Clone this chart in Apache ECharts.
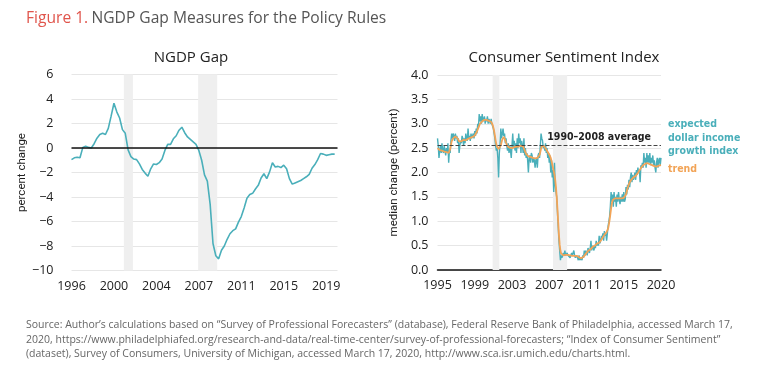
<!DOCTYPE html>
<html>
<head>
<meta charset="utf-8">
<script src="https://cdn.jsdelivr.net/npm/echarts@6/dist/echarts.min.js"></script>
<style>
  html, body { margin: 0; padding: 0; background: #fff; }
  #chart { width: 768px; height: 375px; }
</style>
</head>
<body>
<div id="chart"></div>
<script>
// NGDP gap, quarterly, starting 1996Q1 (percent)
const ngdpGap = [
  -0.95, -0.8, -0.75, -0.8, 0.05, 0.15, 0.05, 0.0, 0.35, 0.8,
  1.1, 1.2, 1.1, 1.6, 2.6, 3.65, 2.95, 2.45, 1.5, 1.2,
  -0.15, -0.7, -0.9, -0.95, -1.3, -1.75, -2.05, -2.3, -1.7, -1.3,
  -1.35, -1.2, -0.9, -0.2, 0.3, 0.3, 0.75, 1.0, 1.45, 1.7,
  1.25, 0.9, 0.7, 0.5, 0.3, -0.2, -1.0, -2.2, -2.7, -4.6,
  -7.8, -8.8, -9.05, -8.35, -8.0, -7.45, -7.0, -6.75, -6.6, -6.05,
  -5.6, -4.9, -4.1, -3.8, -3.7, -3.35, -3.05, -2.45, -2.1, -2.5,
  -1.95, -1.2, -1.55, -1.5, -1.6, -1.4, -1.7, -2.5, -2.95, -2.85,
  -2.75, -2.65, -2.5, -2.35, -2.15, -1.65, -1.35, -0.95, -0.45, -0.5,
  -0.6, -0.55, -0.5, -0.5
];
const ngdpTickLabels = ['1996', '2000', '2004', '2007', '2011', '2015', '2019'];
// recession shading, in quarter index units
const ngdpRecessions = [[18.5, 21.7], [44.75, 51.5]];

// expected dollar income growth index, monthly Jan 1995 - Jan 2020
const incomeIndex = [
  2.70,2.55,2.30,2.45,2.55,2.40,2.60,2.45,2.40,2.55,2.45,2.35,
  2.50,2.40,2.60,2.20,2.45,2.40,2.65,2.80,2.70,2.80,2.75,2.65,
  2.80,2.70,2.75,2.60,2.70,2.40,2.55,2.65,2.60,2.75,2.70,2.55,
  2.70,2.60,2.80,2.70,2.65,2.90,2.70,2.75,2.65,2.80,2.70,2.75,
  2.80,2.70,2.85,2.75,2.90,2.80,3.00,2.95,3.20,3.05,3.15,3.00,
  3.20,3.05,3.10,3.15,3.00,3.10,3.05,3.15,3.00,3.10,3.05,3.00,
  3.10,3.00,2.95,2.90,2.80,2.70,2.55,2.45,2.50,2.30,1.90,2.40,
  2.60,2.90,2.70,2.80,2.90,2.75,2.80,2.60,2.70,2.55,2.45,2.60,
  2.40,2.55,2.45,2.30,2.55,2.80,2.50,2.65,2.45,2.60,2.40,2.70,
  2.50,2.80,2.60,2.70,2.40,2.65,2.55,2.40,2.70,2.35,2.50,2.30,
  2.40,2.25,2.00,2.30,2.35,2.20,2.40,2.35,2.20,2.30,2.25,2.10,
  2.25,2.30,2.10,2.35,2.40,2.30,2.55,2.80,2.70,2.65,2.50,2.55,
  2.45,2.60,2.40,2.50,2.30,2.40,2.20,2.35,2.00,2.25,1.90,2.05,
  1.60,2.20,1.75,1.60,1.50,1.20,0.90,0.60,0.40,0.20,0.30,0.25,
  0.30,0.35,0.30,0.40,0.30,0.30,0.35,0.30,0.30,0.30,0.25,0.30,
  0.35,0.30,0.30,0.40,0.30,0.25,0.30,0.30,0.25,0.20,0.30,0.20,
  0.20,0.25,0.20,0.30,0.25,0.40,0.30,0.40,0.35,0.30,0.45,0.40,
  0.35,0.45,0.60,0.40,0.50,0.45,0.40,0.50,0.45,0.60,0.50,0.55,
  0.50,0.70,0.55,0.60,0.70,0.65,0.75,0.60,0.80,0.70,0.75,0.60,
  0.75,0.90,1.00,1.10,1.30,1.60,1.40,1.55,1.30,1.60,1.40,1.50,
  1.30,1.55,1.40,1.60,1.45,1.35,1.50,1.40,1.55,1.40,1.60,1.40,
  1.45,1.70,1.55,1.75,1.65,1.85,1.70,1.90,2.00,1.80,1.95,1.85,
  1.90,2.00,1.85,2.05,1.95,2.10,2.00,2.05,1.80,2.15,2.10,2.20,
  2.10,2.40,2.20,2.30,2.10,2.40,2.20,2.35,2.20,2.40,2.15,2.30,
  2.20,2.35,2.15,2.25,2.10,2.00,2.20,2.30,2.10,2.25,2.30,2.15,
  2.30
];
const incomeTrend = [
  2.50,2.48,2.47,2.46,2.46,2.45,2.45,2.44,2.44,2.43,2.43,2.43,
  2.42,2.41,2.40,2.40,2.42,2.48,2.56,2.64,2.68,2.70,2.72,2.73,
  2.74,2.74,2.72,2.70,2.67,2.64,2.62,2.62,2.64,2.66,2.67,2.67,
  2.67,2.66,2.66,2.67,2.68,2.69,2.70,2.70,2.71,2.72,2.72,2.73,
  2.73,2.74,2.76,2.78,2.80,2.84,2.88,2.92,2.96,3.00,3.02,3.04,
  3.05,3.06,3.07,3.08,3.08,3.09,3.08,3.08,3.07,3.06,3.05,3.04,
  3.04,3.02,2.98,2.92,2.85,2.76,2.66,2.58,2.53,2.50,2.48,2.47,
  2.50,2.56,2.62,2.68,2.72,2.73,2.71,2.66,2.61,2.57,2.54,2.53,
  2.52,2.51,2.50,2.50,2.50,2.50,2.51,2.52,2.53,2.53,2.53,2.53,
  2.53,2.53,2.54,2.55,2.55,2.55,2.54,2.53,2.50,2.46,2.42,2.38,
  2.36,2.34,2.33,2.32,2.32,2.32,2.32,2.31,2.30,2.29,2.29,2.29,
  2.29,2.29,2.30,2.31,2.33,2.36,2.42,2.49,2.54,2.56,2.55,2.54,
  2.52,2.50,2.47,2.44,2.42,2.40,2.37,2.35,2.30,2.24,2.17,2.10,
  2.03,1.95,1.85,1.70,1.50,1.25,0.98,0.72,0.52,0.40,0.34,0.31,
  0.30,0.30,0.31,0.31,0.31,0.31,0.31,0.31,0.30,0.30,0.30,0.29,
  0.29,0.29,0.29,0.29,0.29,0.29,0.29,0.29,0.28,0.27,0.26,0.25,
  0.24,0.24,0.24,0.25,0.27,0.29,0.31,0.33,0.35,0.37,0.39,0.40,
  0.41,0.42,0.44,0.45,0.47,0.48,0.49,0.50,0.52,0.53,0.54,0.55,
  0.55,0.56,0.58,0.60,0.62,0.65,0.67,0.70,0.72,0.74,0.76,0.78,
  0.79,0.85,0.93,1.03,1.14,1.26,1.36,1.43,1.46,1.47,1.47,1.47,
  1.47,1.47,1.47,1.47,1.47,1.47,1.47,1.47,1.47,1.47,1.48,1.49,
  1.50,1.55,1.61,1.67,1.72,1.76,1.80,1.83,1.85,1.87,1.89,1.90,
  1.91,1.92,1.93,1.95,1.97,1.99,2.02,2.04,2.07,2.09,2.11,2.13,
  2.15,2.16,2.17,2.18,2.19,2.19,2.19,2.19,2.18,2.17,2.16,2.15,
  2.15,2.14,2.13,2.13,2.12,2.12,2.12,2.12,2.13,2.14,2.14,2.15,
  2.15
];
const sentimentTickLabels = ['1995', '1999', '2003', '2007', '2011', '2015', '2020'];
const sentimentRecessions = [[74, 83], [155, 174]]; // month index
const averageLevel = 2.55;

const TEAL = '#4aafba';
const ORANGE = '#f2a457';
const FONT = '"Open Sans", "Liberation Sans", sans-serif';
const LABEL_FONT = '"DejaVu Sans Condensed", Roboto, sans-serif';

const chart = echarts.init(document.getElementById('chart'));

const minus = v => String(v).replace('-', '\u2212');
const bands = list => list.map(r => [{ xAxis: r[0] }, { xAxis: r[1] }]);
const tickText = { fontSize: 12.5, color: '#222', fontFamily: FONT };

chart.setOption({
  animation: false,
  textStyle: { fontFamily: FONT },
  title: [
    { text: 'NGDP Gap', left: 186, top: 45, textAlign: 'center',
      textStyle: { fontSize: 15, fontWeight: 'normal', color: '#222', fontFamily: FONT } },
    { text: 'Consumer Sentiment Index', left: 559, top: 45, textAlign: 'center',
      textStyle: { fontSize: 15, fontWeight: 'normal', color: '#222', fontFamily: FONT } }
  ],
  grid: [
    { left: 71.5, width: 266, top: 74.5, height: 196 },
    { left: 437.5, width: 223.5, top: 75, height: 195 }
  ],
  xAxis: [
    {
      gridIndex: 0, type: 'value', min: 0, max: 94, interval: 15,
      axisLine: { show: false }, axisTick: { show: false }, splitLine: { show: false },
      axisLabel: Object.assign({
        margin: 9,
        formatter: v => (v % 15 === 0 && ngdpTickLabels[v / 15]) || ''
      }, tickText)
    },
    {
      gridIndex: 1, type: 'value', min: 0, max: 300, interval: 50,
      axisLine: { show: true, lineStyle: { color: '#111', width: 1.5 } },
      axisTick: { show: false }, splitLine: { show: false },
      axisLabel: Object.assign({
        margin: 9,
        formatter: v => (v % 50 === 0 && sentimentTickLabels[v / 50]) || ''
      }, tickText)
    }
  ],
  yAxis: [
    {
      gridIndex: 0, type: 'value', min: -10, max: 6, interval: 2,
      name: 'percent change', nameLocation: 'middle', nameGap: 32,
      nameTextStyle: { fontSize: 11.5, color: '#222', fontFamily: 'Roboto, sans-serif' },
      axisLine: { show: false }, axisTick: { show: false },
      axisLabel: Object.assign({ margin: 18, formatter: minus }, tickText),
      splitLine: { lineStyle: { color: '#e6e6e6', width: 1 } }
    },
    {
      gridIndex: 1, type: 'value', min: 0, max: 4, interval: 0.5,
      name: 'median change (percent)', nameLocation: 'middle', nameGap: 37,
      nameTextStyle: { fontSize: 11.5, color: '#222', fontFamily: 'Roboto, sans-serif' },
      axisLine: { show: false }, axisTick: { show: false },
      axisLabel: Object.assign({ margin: 9, formatter: v => v.toFixed(1) }, tickText),
      splitLine: { lineStyle: { color: '#e6e6e6', width: 1 } }
    }
  ],
  series: [
    {
      type: 'line', xAxisIndex: 0, yAxisIndex: 0, showSymbol: false, z: 3,
      data: ngdpGap.map((v, i) => [i, v]),
      lineStyle: { color: TEAL, width: 1.6 },
      markArea: { silent: true, itemStyle: { color: '#efefef' }, data: bands(ngdpRecessions) },
      markLine: {
        silent: true, symbol: 'none', label: { show: false },
        lineStyle: { color: '#111', width: 1.5, type: 'solid' },
        data: [{ yAxis: 0 }]
      }
    },
    {
      type: 'line', xAxisIndex: 1, yAxisIndex: 1, showSymbol: false, z: 3,
      data: incomeIndex.map((v, i) => [i, v]),
      lineStyle: { color: TEAL, width: 1.4 },
      markArea: { silent: true, itemStyle: { color: '#efefef' }, data: bands(sentimentRecessions) },
      markLine: {
        silent: true, symbol: 'none',
        lineStyle: { color: '#444', width: 1, type: [4, 2] },
        label: {
          position: 'insideEndTop', distance: [10, 3], formatter: '1990\u20132008 average',
          fontSize: 10.5, fontWeight: 'bold', color: '#222', fontFamily: LABEL_FONT
        },
        data: [{ yAxis: averageLevel }]
      }
    },
    {
      type: 'line', xAxisIndex: 1, yAxisIndex: 1, showSymbol: false, z: 4,
      data: incomeTrend.map((v, i) => [i, v]),
      lineStyle: { color: ORANGE, width: 1.8 }
    }
  ],
  graphic: [
    {
      type: 'text', left: 26, top: 11,
      style: {
        text: '{a|Figure 1.} {b|NGDP Gap Measures for the Policy Rules}',
        rich: {
          a: { fontSize: 15.6, fill: '#e0554c', fontFamily: FONT },
          b: { fontSize: 15.6, fill: '#555', fontFamily: FONT }
        }
      }
    },
    {
      type: 'text', left: 668, top: 118,
      style: {
        text: 'expected\ndollar income\ngrowth index', fill: TEAL,
        font: 'bold 10.5px ' + LABEL_FONT, lineHeight: 13.3
      }
    },
    {
      type: 'text', left: 668, top: 164,
      style: { text: 'trend', fill: ORANGE, font: 'bold 10.5px ' + LABEL_FONT }
    },
    {
      type: 'text', left: 26, top: 318,
      style: {
        text: 'Source: Author\u2019s calculations based on \u201cSurvey of Professional Forecasters\u201d (database), Federal Reserve Bank of Philadelphia, accessed March 17,\n' +
          '2020, https://www.philadelphiafed.org/research-and-data/real-time-center/survey-of-professional-forecasters; \u201cIndex of Consumer Sentiment\u201d\n' +
          '(dataset), Survey of Consumers, University of Michigan, accessed March 17, 2020, http://www.sca.isr.umich.edu/charts.html.',
        fill: '#666', font: '10.5px ' + FONT, lineHeight: 14.5
      }
    }
  ]
});
</script>
</body>
</html>
